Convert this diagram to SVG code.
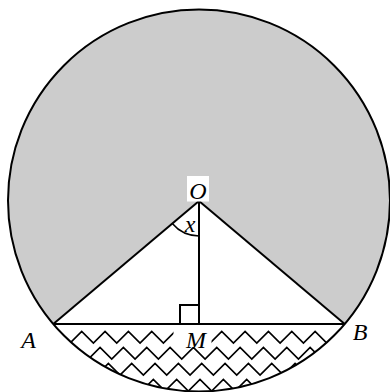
<svg xmlns="http://www.w3.org/2000/svg" width="390" height="392" viewBox="0 0 390 392">
  <style>
    .ln { fill: none; stroke: #000; stroke-width: 2; stroke-linejoin: miter; }
    .zz { fill: none; stroke: #000; stroke-width: 1.7; stroke-linejoin: miter; }
    .lbl { font-family: "Liberation Serif", "Times New Roman", serif; font-style: italic; font-size: 24px; fill: #000; }
  </style>
  <defs>
    <clipPath id="seg">
      <path d="M53.3,324 H344.7 A191,191 0 0,1 53.3,324 Z"/>
    </clipPath>
  </defs>
  <rect width="390" height="392" fill="#fff"/>
  <g id="circle">
    <circle cx="199" cy="200.5" r="191" fill="#cccccc"/>
    <polygon points="199,201 53.3,324 344.7,324" fill="#fff"/>
    <path d="M53.3,324 H344.7 A191,191 0 0,1 53.3,324 Z" fill="#fff"/>
  </g>
  <g id="waves" clip-path="url(#seg)">
    <path class="zz" d="M46.7,343 l11.67,-11.5 l11.67,11.5 l11.67,-11.5 l11.67,11.5 l11.67,-11.5 l11.67,11.5 l11.67,-11.5 l11.67,11.5 l11.67,-11.5 l11.67,11.5 l11.67,-11.5 l11.67,11.5 l11.67,-11.5 l11.67,11.5 l11.67,-11.5 l11.67,11.5 l11.67,-11.5 l11.67,11.5 l11.67,-11.5 l11.67,11.5 l11.67,-11.5 l11.67,11.5 l11.67,-11.5 l11.67,11.5 l11.67,-11.5 l11.67,11.5 l11.67,-11.5 l11.67,11.5"/>
    <path class="zz" d="M41.7,359 l11.67,-11.5 l11.67,11.5 l11.67,-11.5 l11.67,11.5 l11.67,-11.5 l11.67,11.5 l11.67,-11.5 l11.67,11.5 l11.67,-11.5 l11.67,11.5 l11.67,-11.5 l11.67,11.5 l11.67,-11.5 l11.67,11.5 l11.67,-11.5 l11.67,11.5 l11.67,-11.5 l11.67,11.5 l11.67,-11.5 l11.67,11.5 l11.67,-11.5 l11.67,11.5 l11.67,-11.5 l11.67,11.5 l11.67,-11.5 l11.67,11.5 l11.67,-11.5 l11.67,11.5"/>
    <path class="zz" d="M50,375 l11.67,-11.5 l11.67,11.5 l11.67,-11.5 l11.67,11.5 l11.67,-11.5 l11.67,11.5 l11.67,-11.5 l11.67,11.5 l11.67,-11.5 l11.67,11.5 l11.67,-11.5 l11.67,11.5 l11.67,-11.5 l11.67,11.5 l11.67,-11.5 l11.67,11.5 l11.67,-11.5 l11.67,11.5 l11.67,-11.5 l11.67,11.5 l11.67,-11.5 l11.67,11.5 l11.67,-11.5 l11.67,11.5 l11.67,-11.5 l11.67,11.5"/>
    <path class="zz" d="M48.3,391 l11.67,-11.5 l11.67,11.5 l11.67,-11.5 l11.67,11.5 l11.67,-11.5 l11.67,11.5 l11.67,-11.5 l11.67,11.5 l11.67,-11.5 l11.67,11.5 l11.67,-11.5 l11.67,11.5 l11.67,-11.5 l11.67,11.5 l11.67,-11.5 l11.67,11.5 l11.67,-11.5 l11.67,11.5 l11.67,-11.5 l11.67,11.5 l11.67,-11.5 l11.67,11.5 l11.67,-11.5 l11.67,11.5 l11.67,-11.5 l11.67,11.5"/>
  </g>
  <circle cx="199" cy="200.5" r="191" class="ln"/>
  <g id="connectors">
    <line class="ln" x1="199" y1="201" x2="53.3" y2="324"/>
    <line class="ln" x1="199" y1="201" x2="344.7" y2="324"/>
    <line class="ln" x1="199" y1="201" x2="199" y2="324"/>
    <line class="ln" x1="53.3" y1="324" x2="344.7" y2="324"/>
    <path class="ln" d="M180,324 V305 H199"/>
    <path fill="none" stroke="#000" stroke-width="1.6" d="M172.3,223.6 A35,35 0 0,0 199,236"/>
  </g>
  <g id="node-O">
    <rect x="187" y="176" width="22" height="25.5" fill="#fff"/>
    <text class="lbl" x="198" y="199" text-anchor="middle">O</text>
  </g>
  <g id="node-x">
    <text class="lbl" x="190" y="232" text-anchor="middle">x</text>
  </g>
  <g id="node-M">
    <rect x="173.5" y="325" width="38" height="22" fill="#fff"/>
    <text class="lbl" x="196" y="348" text-anchor="middle">M</text>
  </g>
  <g id="node-A">
    <text class="lbl" x="28.5" y="348" text-anchor="middle">A</text>
  </g>
  <g id="node-B">
    <text class="lbl" x="360" y="340" text-anchor="middle">B</text>
  </g>
</svg>
